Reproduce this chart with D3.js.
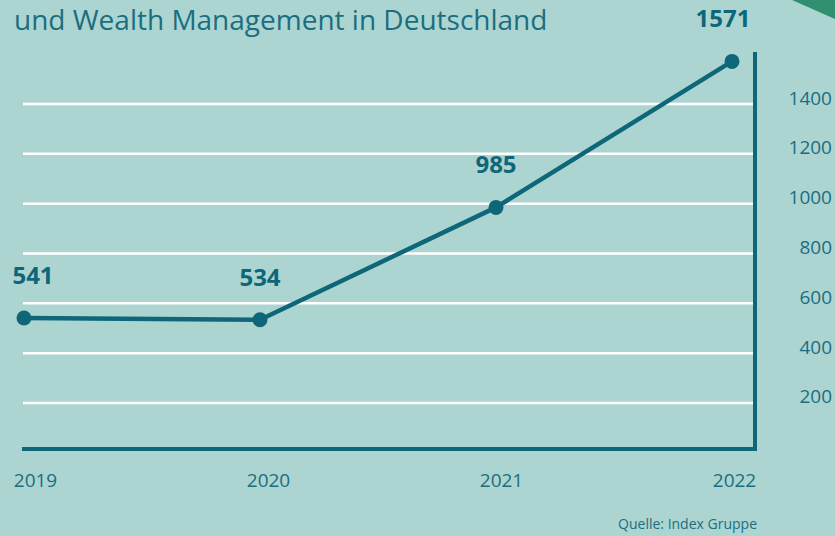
<!DOCTYPE html>
<html>
<head>
<meta charset="utf-8">
<script src="https://cdn.jsdelivr.net/npm/d3@7"></script>
<style>
  html, body { margin: 0; padding: 0; background: #acd5d1; }
  svg { display: block; }
</style>
</head>
<body>
<svg id="chart"></svg>
<script>
const width = 835;
const height = 536;

// Chart data
const years = ["2019", "2020", "2021", "2022"];
const values = [541, 534, 985, 1571];
const yTicks = [200, 400, 600, 800, 1000, 1200, 1400];
const title = "und Wealth Management in Deutschland";
const source = "Quelle: Index Gruppe";

const dark = "#0e6779";
const textColor = "#1b6e80";
const font = "Open Sans, sans-serif";

const svg = d3.select("#chart")
    .attr("width", width)
    .attr("height", height);

svg.append("rect")
    .attr("width", width).attr("height", height)
    .attr("fill", "#acd5d1");

// green corner shape top right
svg.append("path")
    .attr("d", "M792,0 L835,0 L835,19 Z")
    .attr("fill", "#2f8f6e");

// Scales
const x = d3.scalePoint().domain(years).range([24, 732]);
const xLabel = d3.scalePoint().domain(years).range([35, 734]);
const y = d3.scaleLinear().domain([0, 1400]).range([452.8, 104]);

// Gridlines
svg.append("g")
    .selectAll("line")
    .data(yTicks)
    .join("line")
    .attr("x1", 23).attr("x2", 753)
    .attr("y1", d => y(d)).attr("y2", d => y(d))
    .attr("stroke", "#ffffff")
    .attr("stroke-width", 2.5);

// Right axis labels
const yAxis = d3.axisRight(y).tickValues(yTicks).tickFormat(d3.format("d"))
    .tickSize(0).tickPadding(0);
const gy = svg.append("g")
    .attr("transform", "translate(832,0)")
    .call(yAxis);
gy.select(".domain").remove();
gy.selectAll("text")
    .attr("text-anchor", "end")
    .attr("dy", 0)
    .attr("font-family", font)
    .attr("font-size", 19)
    .attr("fill", textColor);

// Axis frame (bottom + right)
svg.append("path")
    .attr("d", `M22,449 L755,449 L755,52`)
    .attr("fill", "none")
    .attr("stroke", dark)
    .attr("stroke-width", 4);

// Bottom axis labels
const xAxis = d3.axisBottom(xLabel).tickSize(0).tickPadding(0);
const gx = svg.append("g")
    .attr("transform", "translate(0,487)")
    .call(xAxis);
gx.select(".domain").remove();
gx.selectAll("text")
    .attr("dy", 0)
    .attr("font-family", font)
    .attr("font-size", 19)
    .attr("fill", textColor);

// Line
const pts = years.map((yr, i) => ({ year: yr, value: values[i] }));
const line = d3.line().x(d => x(d.year)).y(d => y(d.value));

svg.append("path")
    .datum(pts)
    .attr("d", line)
    .attr("fill", "none")
    .attr("stroke", dark)
    .attr("stroke-width", 4.5)
    .attr("stroke-linejoin", "round");

svg.append("g")
    .selectAll("circle")
    .data(pts)
    .join("circle")
    .attr("cx", d => x(d.year))
    .attr("cy", d => y(d.value))
    .attr("r", 7.5)
    .attr("fill", dark);

// Value labels
svg.append("g")
    .selectAll("text")
    .data(pts)
    .join("text")
    .attr("x", (d, i) => x(d.year) + (i === 0 ? 9 : i === 3 ? -9 : 0))
    .attr("y", d => y(d.value) - 34)
    .attr("text-anchor", "middle")
    .attr("font-family", font)
    .attr("font-weight", 700)
    .attr("font-size", 24)
    .attr("fill", dark)
    .text(d => d.value);

// Title
svg.append("text")
    .attr("x", 14).attr("y", 30)
    .attr("font-family", font)
    .attr("font-size", 28)
    .attr("fill", textColor)
    .text(title);

// Source
svg.append("text")
    .attr("x", 757).attr("y", 529)
    .attr("text-anchor", "end")
    .attr("font-family", font)
    .attr("font-size", 14)
    .attr("fill", textColor)
    .text(source);
</script>
</body>
</html>
